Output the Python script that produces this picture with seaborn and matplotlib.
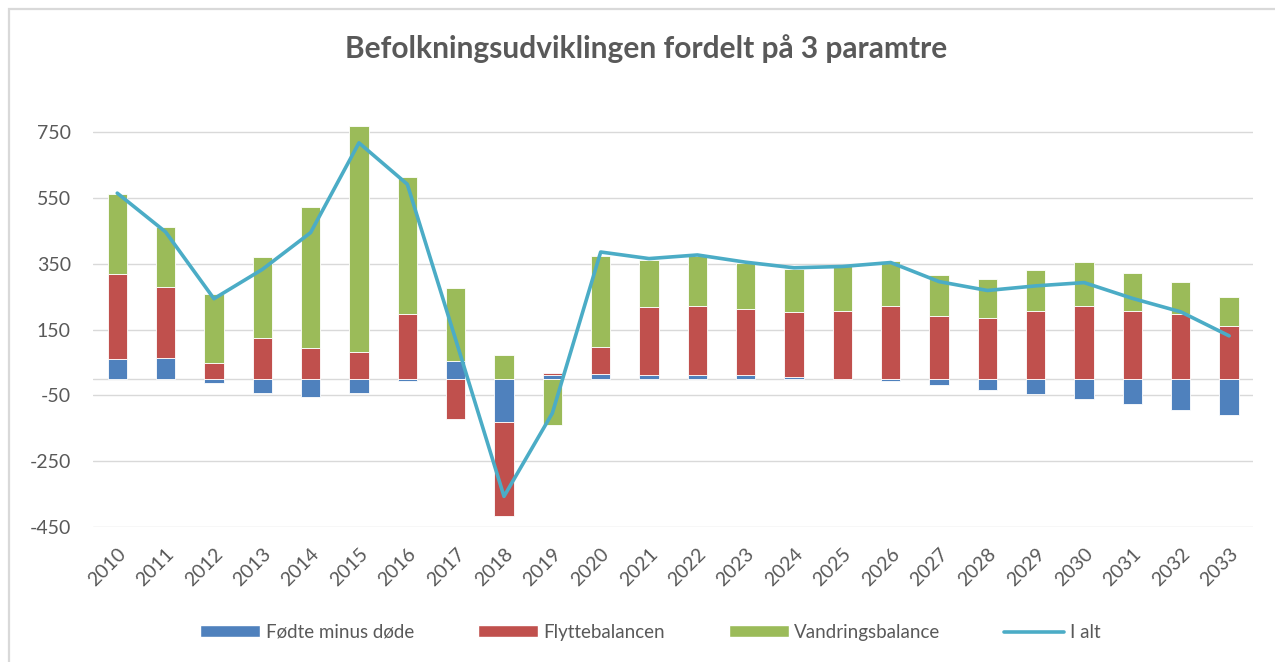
# Stacked bars of population change by component, with the total as a line.

import seaborn as sns
import matplotlib.pyplot as plt
import numpy as np
import pandas as pd
from matplotlib.patches import Rectangle, Patch
from matplotlib.lines import Line2D

# Data
years = [str(y) for y in range(2010, 2034)]
fodte_minus_dode = [61, 65, -11, -43, -54, -43, -7, 55, -130, 11, 15, 11,
                    11, 11, 6, 0, -5, -17, -34, -45, -61, -77, -93, -111]
flyttebalancen = [257, 215, 47, 125, 93, 82, 199, -122, -286, 7, 82, 207,
                  210, 203, 197, 206, 221, 190, 186, 206, 221, 206, 199, 162]
vandringsbalance = [243, 183, 210, 245, 430, 686, 416, 221, 73, -139, 277, 143,
                    153, 139, 132, 138, 138, 125, 118, 126, 134, 117, 97, 87]
i_alt = [565, 447, 244, 333, 445, 718, 592, 120, -357, -104, 386, 366,
         377, 355, 338, 342, 354, 296, 269, 283, 293, 245, 204, 131]

series_names = ["Fødte minus døde", "Flyttebalancen", "Vandringsbalance"]
series_values = [fodte_minus_dode, flyttebalancen, vandringsbalance]
colors = ["#4F81BD", "#C0504D", "#9BBB59"]
line_color = "#4BACC6"
text_color = "#595959"

sns.set_theme(style="white")
plt.rcParams['font.family'] = ['Lato', 'DejaVu Sans']
plt.rcParams['axes.unicode_minus'] = False

fig = plt.figure(figsize=(12.75, 6.62), dpi=100)
ax = fig.add_axes([0.073, 0.204, 0.910, 0.621])

x = np.arange(len(years))
pos_base = np.zeros(len(years))
neg_base = np.zeros(len(years))
for name, vals, col in zip(series_names, series_values, colors):
    v = np.array(vals, dtype=float)
    bottom = np.where(v >= 0, pos_base, neg_base)
    ax.bar(x, v, bottom=bottom, width=0.4, color=col, edgecolor="white",
           linewidth=0.6, zorder=2)
    pos_base += np.where(v >= 0, v, 0)
    neg_base += np.where(v < 0, v, 0)

df = pd.DataFrame({"pos": x, "I alt": i_alt})
sns.lineplot(data=df, x="pos", y="I alt", ax=ax, color=line_color,
             linewidth=2.6, zorder=3)

ax.set_xlim(-0.5, len(years) - 0.5)
ax.set_ylim(-450, 800)
ax.set_yticks([-450, -250, -50, 150, 350, 550, 750])
ax.yaxis.grid(True, color="#D9D9D9", linewidth=1)
ax.axhline(0, color="#D9D9D9", linewidth=1, zorder=1)
ax.set_xticks(x)
ax.set_xticklabels(years, rotation=45, ha="right", rotation_mode="anchor")
ax.tick_params(axis="both", colors=text_color, labelsize=14, length=0)
ax.tick_params(axis="x", pad=13)
ax.tick_params(axis="y", pad=16)
ax.set_xlabel("")
ax.set_ylabel("")
for s in ax.spines.values():
    s.set_visible(False)

fig.suptitle("Befolkningsudviklingen fordelt på 3 paramtre", x=0.507, y=0.948,
             fontsize=21.5, fontweight="bold", color=text_color)

handles = [Patch(facecolor=c, label=n) for n, c in zip(series_names, colors)]
handles.append(Line2D([0], [0], color=line_color, linewidth=2.6, label="I alt"))
fig.legend(handles=handles, loc="center", bbox_to_anchor=(0.51, 0.045),
           ncol=4, frameon=False, fontsize=13.5, labelcolor=text_color,
           handlelength=3.2, handleheight=0.55, columnspacing=3.4,
           handletextpad=0.3)

fig.patches.append(Rectangle((9 / 1275, -0.1), 1.2, 1.1 - 9 / 662,
                             transform=fig.transFigure, fill=False,
                             edgecolor="#D9D9D9", linewidth=1.6))

fig.savefig("out.png", dpi=100)
